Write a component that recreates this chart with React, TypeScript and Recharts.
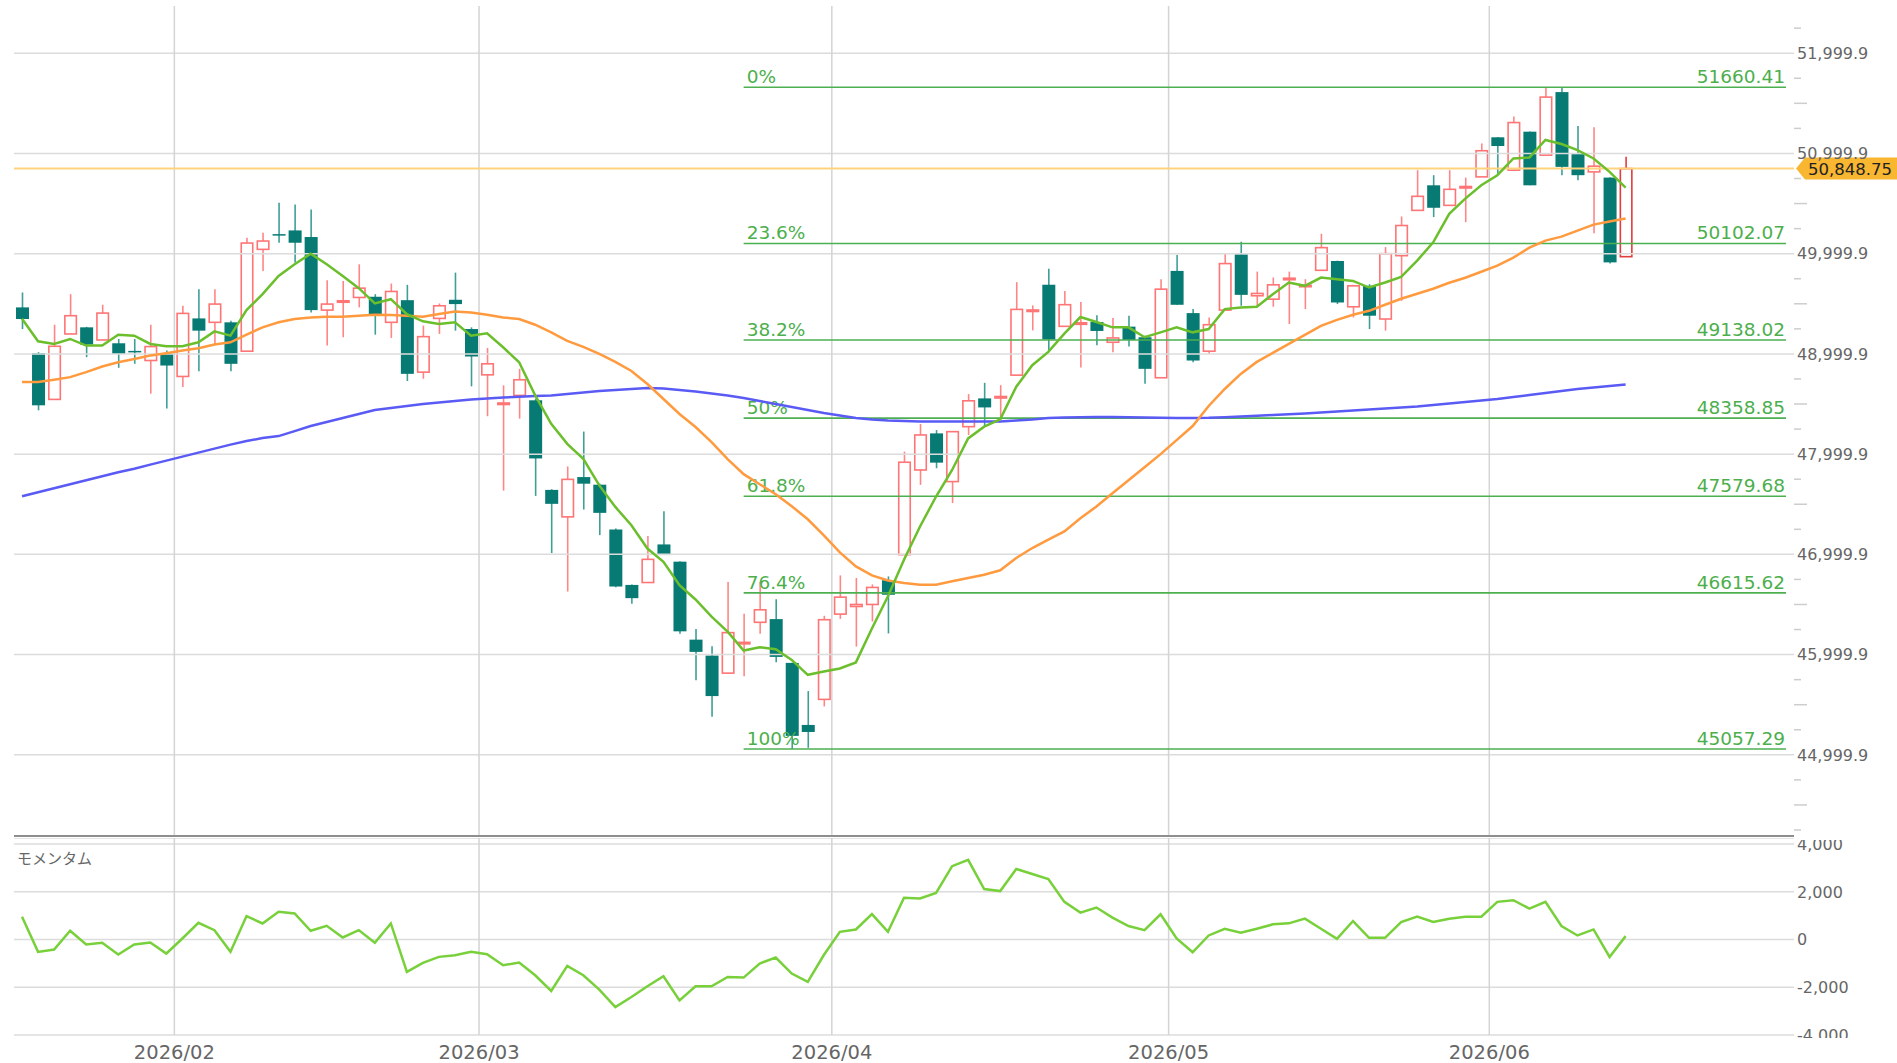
import React from 'react';
import { ComposedChart, Bar, Line, XAxis, YAxis, CartesianGrid, ReferenceLine } from 'recharts';

const W = 1897;
const MAIN_H = 838;
const MOM_H = 225;
const SLOTS = 111; // 101 sessions + empty room on the right
const PLOT_L = 14;
const PLOT_R = 1794;
const BAND = (PLOT_R - PLOT_L) / SLOTS;

// daily OHLC, 2026/01 .. 2026/06
const opens = [
  49464, 49007, 48546, 49199, 49265, 49139, 49106, 49030, 48934, 49000,
  48775, 49354, 49315, 49315, 49027, 50043, 50195, 50232, 50166, 49437,
  49520, 49563, 49570, 49315, 49536, 48818, 49354, 49540, 49248, 48791,
  48500, 48586, 48537, 47643, 47374, 47771, 47695, 47248, 46695, 46719,
  47099, 46927, 46149, 45990, 45815, 46110, 46322, 46354, 45917, 45298,
  45553, 46404, 46480, 46500, 46742, 46997, 47842, 48207, 47726, 48274,
  48556, 48560, 48788, 49428, 49690, 49275, 49300, 49318, 49116, 49272,
  49166, 48762, 49828, 49407, 49027, 49437, 49993, 49580, 49546, 49745,
  49675, 49834, 49927, 49470, 49679, 49348, 49980, 50432, 50682, 50482,
  50660, 50766, 51161, 50833, 51217, 50983, 51612, 50993, 50816, 50759,
  49970,
];
const highs = [
  49613, 49017, 49291, 49596, 49270, 49490, 49149, 49149, 49291, 49033,
  49480, 49646, 49646, 49331, 50159, 50209, 50507, 50490, 50440, 49735,
  49728, 49894, 49596, 49702, 49689, 49282, 49503, 49811, 49265, 49060,
  48686, 48851, 48553, 47650, 47877, 48225, 47705, 47258, 46700, 47182,
  47431, 46930, 46255, 46083, 46725, 46407, 46725, 46553, 45920, 45636,
  46387, 46790, 46764, 46700, 46780, 48025, 48300, 48240, 48224, 48599,
  48711, 48688, 49716, 49484, 49849, 49627, 49517, 49385, 49358, 49381,
  49182, 49745, 49987, 49447, 49364, 50000, 50119, 49821, 49762, 49821,
  49745, 50199, 49930, 49689, 49695, 50066, 50371, 50833, 50783, 50833,
  50759, 51100, 51165, 51368, 51220, 51660, 51660, 51274, 51261, 50762,
  50967,
];
const lows = [
  49248, 48437, 48546, 49199, 48967, 49139, 48861, 48901, 48603, 48454,
  48669, 48828, 49099, 48828, 49027, 49828, 50109, 49911, 49414, 49083,
  49166, 49464, 49192, 49159, 48729, 48752, 49199, 49232, 48676, 48378,
  47636, 48354, 47583, 47013, 46629, 47447, 47192, 46672, 46507, 46719,
  46993, 46209, 45745, 45381, 45815, 45785, 46209, 45924, 45057, 45070,
  45483, 46356, 46080, 46330, 46211, 46997, 47693, 47859, 47511, 48191,
  48280, 48340, 48788, 49235, 49036, 49275, 48864, 49086, 49017, 49073,
  48702, 48762, 49490, 48917, 49000, 49437, 49480, 49470, 49470, 49298,
  49447, 49834, 49497, 49364, 49248, 49232, 49529, 50432, 50365, 50482,
  50314, 50766, 50799, 50833, 50682, 50983, 50783, 50732, 50204, 49903,
  49970,
];
const closes = [
  49348, 48487, 49076, 49381, 49093, 49407, 49000, 49020, 49073, 48884,
  49404, 49232, 49497, 48901, 50106, 50126, 50185, 50109, 49437, 49497,
  49530, 49656, 49391, 49623, 48801, 49172, 49480, 49497, 48974, 48901,
  48510, 48742, 47957, 47504, 47748, 47705, 47414, 46679, 46563, 46950,
  46993, 46232, 46027, 45586, 46219, 46122, 46447, 45977, 45189, 45228,
  46348, 46573, 46500, 46670, 46597, 47919, 48191, 47915, 48224, 48532,
  48466, 48575, 49444, 49438, 49143, 49491, 49310, 49229, 49159, 49139,
  48851, 49646, 49490, 48934, 49291, 49901, 49589, 49603, 49689, 49755,
  49685, 50060, 49513, 49679, 49381, 50000, 50281, 50572, 50458, 50642,
  50670, 51027, 51074, 51308, 50682, 51562, 50866, 50783, 50873, 49913,
  50848.75,
];

// moving averages
const maShort = [
  49350, 49126, 49099, 49149, 49083, 49083, 49192, 49182, 49099, 49076,
  49076, 49116, 49225, 49182, 49437, 49596, 49778, 49894, 50000, 49894,
  49778, 49656, 49503, 49546, 49397, 49325, 49298, 49315, 49182, 49205,
  49066, 48917, 48586, 48302, 48103, 47954, 47688, 47473, 47290, 47058,
  46925, 46693, 46550, 46378, 46229, 46040, 46073, 46053, 45947, 45798,
  45831, 45861, 45922, 46260, 46582, 46947, 47278, 47577, 47842, 48157,
  48274, 48347, 48672, 48887, 49020, 49202, 49368, 49318, 49265, 49265,
  49166, 49215, 49265, 49215, 49248, 49447, 49464, 49470, 49596, 49712,
  49679, 49762, 49745, 49728, 49662, 49712, 49769, 49930, 50114, 50398,
  50549, 50682, 50783, 50950, 50960, 51134, 51094, 51033, 50950, 50816,
  50659,
];
const maMid = [
  48719, 48719, 48742, 48768, 48818, 48874, 48917, 48950, 48983, 49007,
  49033, 49056, 49093, 49116, 49192, 49265, 49315, 49348, 49364, 49371,
  49371, 49381, 49391, 49387, 49381, 49371, 49397, 49424, 49414, 49391,
  49364, 49348, 49291, 49215, 49130, 49070, 49000, 48920, 48830, 48700,
  48550, 48400, 48270, 48120, 47950, 47800, 47700, 47600, 47480, 47350,
  47190, 47020, 46880, 46790, 46740, 46715, 46698, 46698, 46731, 46764,
  46797, 46841, 46963, 47063, 47146, 47229, 47361, 47477, 47610, 47740,
  47870, 48000, 48140, 48280, 48480, 48650, 48800, 48920, 49010, 49100,
  49190, 49280, 49340, 49390, 49430, 49490, 49550, 49600, 49650, 49710,
  49760, 49820, 49880, 49960, 50060, 50130, 50170, 50230, 50290, 50320,
  50350,
];
const maLong = [
  47580, 47620, 47660, 47700, 47740, 47780, 47820, 47855, 47895, 47935,
  47975, 48015, 48055, 48095, 48130, 48160, 48180, 48230, 48280, 48320,
  48360, 48400, 48440, 48460, 48480, 48500, 48515, 48530, 48545, 48555,
  48565, 48572, 48580, 48586, 48600, 48615, 48630, 48640, 48650, 48660,
  48655, 48640, 48625, 48605, 48585, 48560, 48530, 48500, 48470, 48440,
  48410, 48385, 48360, 48345, 48335, 48330, 48325, 48325, 48325, 48325,
  48325, 48325, 48335, 48345, 48360, 48365, 48368, 48370, 48370, 48368,
  48365, 48362, 48360, 48360, 48362, 48368, 48375, 48382, 48390, 48398,
  48405, 48415, 48425, 48435, 48445, 48455, 48465, 48475, 48490, 48505,
  48520, 48535, 48550, 48570, 48590, 48610, 48630, 48650, 48665, 48680,
  48695,
];
const momentum = [
  950, -518, -420, 364, -210, -140, -630, -210, -126, -588,
  42, 700, 392, -518, 980, 672, 1162, 1092, 364, 574,
  84, 392, -140, 672, -1358, -980, -728, -658, -518, -616,
  -1078, -966, -1498, -2156, -1106, -1498, -2100, -2828, -2408, -1960,
  -1540, -2548, -1960, -1960, -1568, -1596, -1008, -756, -1428, -1778,
  -650, 322, 420, 1064, 322, 1750, 1722, 1950, 3070, 3337,
  2112, 2028, 2957, 2746, 2534, 1577, 1126, 1338, 915, 563,
  394, 1056, 42, -535, 169, 451, 282, 451, 634, 676,
  873, 451, 28, 774, 70, 70, 732, 957, 732, 873,
  957, 957, 1577, 1647, 1295, 1577, 563, 169, 422, -732,
  141,
];

const monthStarts = [10, 29, 51, 72, 92];
const monthLabels = ['2026/02', '2026/03', '2026/04', '2026/05', '2026/06'];
const priceMajors = [44999.9, 45999.9, 46999.9, 47999.9, 48999.9, 49999.9, 50999.9, 51999.9];
const momTicks = [-4000, -2000, 0, 2000, 4000];
const fibPct = ['0%', '23.6%', '38.2%', '50%', '61.8%', '76.4%', '100%'];
const fibVals = [51660.41, 50102.07, 49138.02, 48358.85, 47579.68, 46615.62, 45057.29];
const FIB_FROM = 45;
const FIB_TO = 110;

const Y_MIN = 44190;
const Y_MAX = 52471;
const last = closes.length - 1;

const priceTicks: number[] = [];
for (let v = priceMajors[0] - 750; v < Y_MAX - 100; v += 250) priceTicks.push(Math.round(v * 10) / 10);

const rows = Array.from({ length: SLOTS }, (_, i) =>
  i < opens.length
    ? {
        i,
        open: opens[i], high: highs[i], low: lows[i], close: closes[i],
        range: [lows[i], highs[i]],
        ma5: maShort[i], ma25: maMid[i], ma75: maLong[i], mom: momentum[i],
      }
    : { i }
);

const fmt1 = (v: number) => v.toLocaleString('en-US', { minimumFractionDigits: 1, maximumFractionDigits: 1 });
const FONT = 'DejaVu Sans, Verdana, sans-serif';

const Candle = (props: any) => {
  const { x, y, width, height, payload, index } = props;
  if (!payload || payload.open == null) return null;
  const { open, close, high, low } = payload;
  const top = Math.min(y, y + height);
  const h = Math.abs(height);
  const k = h / Math.max(high - low, 1e-6);
  const py = (v: number) => top + (high - v) * k;
  const up = close >= open;
  const cx = x + width / 2;
  const bTop = py(Math.max(open, close));
  const bBot = py(Math.min(open, close));
  const bh = Math.max(bBot - bTop, 1.5);
  const stroke = index === last ? '#e23c3c' : '#ff7474';
  if (up) {
    return (
      <g>
        <line x1={cx} x2={cx} y1={top} y2={top + h} stroke={index === last ? '#e23c3c' : '#ff8686'} strokeWidth={1.6} />
        <rect x={x + 0.75} y={bTop} width={width - 1.5} height={bh} fill="#fff" stroke={stroke} strokeWidth={1.6} />
      </g>
    );
  }
  return (
    <g>
      <line x1={cx} x2={cx} y1={top} y2={top + h} stroke="#3f9e98" strokeWidth={1.6} />
      <rect x={x} y={bTop} width={width} height={bh} fill="#087a74" />
    </g>
  );
};

const PriceTick = (props: any) => {
  const { y, payload } = props;
  const v = payload.value;
  const step = Math.round((v - priceMajors[0]) / 250);
  const m = ((step % 4) + 4) % 4;
  if (m === 0) {
    return (
      <text x={PLOT_R + 3} y={y} dy="0.36em" fontSize={16} fill="#666" fontFamily={FONT}>
        {fmt1(v)}
      </text>
    );
  }
  const len = m === 2 ? 13 : 7;
  return <line x1={PLOT_R} x2={PLOT_R + len} y1={y} y2={y} stroke="#cdcdcd" strokeWidth={1.5} />;
};

const MomTick = (props: any) => {
  const { y, payload } = props;
  return (
    <svg x={PLOT_R + 3} y={2} width={100} height={198}>
      <text x={0} y={y - 2} dy="0.36em" fontSize={16} fill="#666" fontFamily={FONT}>
        {payload.value.toLocaleString('en-US')}
      </text>
    </svg>
  );
};

const MonthTick = (props: any) => {
  const { x, payload } = props;
  const k = monthStarts.indexOf(Number(payload.value));
  return (
    <text x={x - BAND / 2} y={213.5} dy="0.36em" textAnchor="middle" fontSize={19.5} fill="#666" fontFamily={FONT}>
      {monthLabels[k]}
    </text>
  );
};

const fibLabel = (pct: string, val: number) => (props: any) => {
  const vb = props.viewBox || {};
  const x0 = vb.x ?? 0;
  const w = vb.width ?? 0;
  const yy = vb.y ?? 0;
  return (
    <g fontFamily={FONT} fontSize={18.5} fill="#4caf4c">
      <text x={x0 + 3} y={yy - 4}>{pct}</text>
      <text x={x0 + w - 1} y={yy - 4} textAnchor="end">{val.toFixed(2)}</text>
    </g>
  );
};

const PriceTag = (props: any) => {
  const yy = props.viewBox?.y ?? 0;
  const tip = PLOT_R + 2;
  return (
    <g>
      <polygon
        points={`${tip},${yy} ${tip + 9},${yy - 11} ${W},${yy - 11} ${W},${yy + 11} ${tip + 9},${yy + 11}`}
        fill="#f8b631"
      />
      <text x={tip + 12} y={yy} dy="0.36em" fontSize={16.5} fill="#222" fontFamily={FONT}>
        {closes[last].toLocaleString('en-US', { minimumFractionDigits: 2, maximumFractionDigits: 2 })}
      </text>
    </g>
  );
};

export default function App() {
  return (
    <div style={{ position: 'absolute', left: 0, top: 0, width: W, height: 1063, background: '#fff', overflow: 'hidden', fontFamily: FONT }}>
      <ComposedChart width={W} height={MAIN_H} data={rows} margin={{ top: 6, right: 0, left: PLOT_L, bottom: 0 }}>
        <XAxis dataKey="i" type="category" scale="band" height={2} tick={false} tickLine={false} axisLine={{ stroke: '#8e8e8e', strokeWidth: 2 }} />
        <YAxis
          orientation="right"
          type="number"
          width={103}
          domain={[Y_MIN, Y_MAX]}
          allowDataOverflow
          ticks={priceTicks}
          interval={0}
          tick={(p: any) => <PriceTick {...p} />}
          tickLine={false}
          axisLine={false}
        />
        {priceMajors.map((v) => (
          <ReferenceLine key={'g' + v} y={v} stroke="#dcdcdc" strokeWidth={1.5} />
        ))}
        {monthStarts.map((i) => (
          <ReferenceLine key={'v' + i} x={i} position="start" stroke="#d4d4d4" strokeWidth={1.5} />
        ))}
        {fibVals.map((v, k) => (
          <ReferenceLine
            key={'f' + k}
            segment={[{ x: FIB_FROM, y: v }, { x: FIB_TO, y: v }]}
            stroke="#4caf50"
            strokeWidth={1.6}
            label={fibLabel(fibPct[k], v)}
          />
        ))}
        <ReferenceLine y={closes[last]} stroke="#ffd37c" strokeWidth={2} label={(p: any) => <PriceTag {...p} />} />
        <Bar dataKey="range" barSize={13} shape={(p: any) => <Candle {...p} />} isAnimationActive={false} />
        <Line dataKey="ma75" stroke="#5a5af5" strokeWidth={2.5} dot={false} activeDot={false} isAnimationActive={false} />
        <Line dataKey="ma25" stroke="#ff9a3e" strokeWidth={2.5} dot={false} activeDot={false} isAnimationActive={false} />
        <Line dataKey="ma5" stroke="#6cbf2c" strokeWidth={2.5} dot={false} activeDot={false} isAnimationActive={false} />
      </ComposedChart>

      <div style={{ position: 'absolute', left: 0, top: MAIN_H }}>
        <ComposedChart width={W} height={MOM_H} data={rows} margin={{ top: 0, right: 0, left: PLOT_L, bottom: 0 }}>
          <CartesianGrid vertical={false} stroke="#dcdcdc" strokeWidth={1.5} />
          <XAxis
            dataKey="i"
            type="category"
            scale="band"
            height={28}
            ticks={monthStarts}
            interval={0}
            tick={(p: any) => <MonthTick {...p} />}
            tickLine={false}
            axisLine={false}
          />
          <YAxis
            orientation="right"
            type="number"
            width={103}
            domain={[-4000, 4251]}
            allowDataOverflow
            ticks={momTicks}
            interval={0}
            tick={(p: any) => <MomTick {...p} />}
            tickLine={false}
            axisLine={false}
          />
          {monthStarts.map((i) => (
            <ReferenceLine key={'mv' + i} x={i} position="start" stroke="#d4d4d4" strokeWidth={1.5} />
          ))}
          <Line dataKey="mom" stroke="#78d03a" strokeWidth={2.5} dot={false} activeDot={false} isAnimationActive={false} />
        </ComposedChart>
      </div>

      <div style={{ position: 'absolute', left: 17, top: 849, fontSize: 15, lineHeight: '18px', color: '#666', fontFamily: 'Noto Sans CJK JP' }}>
        モメンタム
      </div>
    </div>
  );
}
